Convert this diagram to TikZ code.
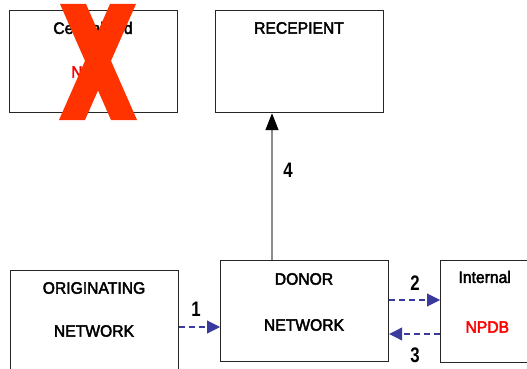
\documentclass[tikz,border=0pt]{standalone}
\usepackage{fontspec}
\setmainfont{Liberation Sans}[FakeBold=2.6,FakeStretch=0.95]
\newfontfamily\numfont{Liberation Sans}[FakeStretch=0.8]
\usetikzlibrary{arrows.meta}
\definecolor{flowblue}{HTML}{3A3A9C}
\definecolor{crossred}{HTML}{FF3300}
\begin{document}
\begin{tikzpicture}[x=1pt,y=-1pt,
  box/.style={draw=black!85,line width=1.2pt,minimum width=#1,minimum height=102pt,inner sep=0pt},
  box/.default=168pt,
  lbl/.style={font=\fontsize{16.5}{18}\selectfont},
  num/.style={font=\numfont\bfseries\fontsize{21}{24}\selectfont},
  flow/.style={draw=flowblue,line width=1.1pt,dash pattern=on 6pt off 4pt,
    -{Triangle[length=13pt,width=13pt,color=flowblue]}},
  up/.style={draw=black!45,line width=1.5pt,-{Triangle[length=17pt,width=13pt,color=black]}}]
\useasboundingbox (0,0) rectangle (527,369);
\begin{scope}
\clip (0,0) rectangle (527,369);
% boxes
\node[box,anchor=north west] (central) at (9,10) {};
\node[box,anchor=north west] (recip) at (215,10) {};
\node[box,anchor=north west] (orig) at (10,270) {};
\node[box,anchor=north west,minimum height=101pt] (donor) at (220,260) {};
\node[box=100pt,anchor=north west] (npdb) at (440,260) {};
% box texts
\node[lbl] (ct) at (93,28) {Centralized};
\node[lbl,text=red] (cn) at (93,72) {NPDB};
\node[lbl] (rt) at (299,28) {RECEPIENT};
\node[lbl] (ot) at (94,288) {ORIGINATING};
\node[lbl] (on) at (94,331) {NETWORK};
\node[lbl] (dt) at (304,279) {DONOR};
\node[lbl] (dn) at (304,325) {NETWORK};
\node[lbl,anchor=west] (it) at (455,277) {Internal};
\node[lbl,anchor=west,text=red] (in) at (462,327) {NPDB};
% cross over the centralized database
\fill[crossred] (60,4) -- (86,4) -- (137,120) -- (111,120) -- cycle;
\fill[crossred] (110,4) -- (136,4) -- (85,120) -- (59,120) -- cycle;
% connectors
\coordinate (d4) at (272,260);
\draw[up] (d4) -- (d4 |- recip.south);
\node[num] (n4) at (288,170) {4};
\draw[flow] (orig.east |- 0,327) -- (donor.west |- 0,327);
\node[num] (n1) at (196,309) {1};
\draw[flow] (donor.east |- 0,300) -- (npdb.west |- 0,300);
\node[num] (n2) at (415,283) {2};
\draw[flow] (npdb.west |- 0,334) -- (donor.east |- 0,334);
\node[num] (n3) at (415,355) {3};
\end{scope}
\end{tikzpicture}
\end{document}
